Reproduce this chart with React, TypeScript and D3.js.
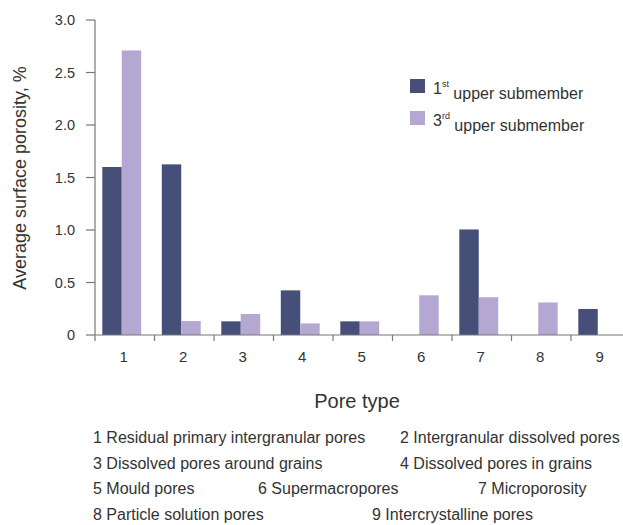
import React from "react";
import * as d3 from "d3";

// Pore type categories on the x axis
const poreTypes = ["1", "2", "3", "4", "5", "6", "7", "8", "9"];
// Average surface porosity (%) per pore type, per submember
const firstUpper = [1.6, 1.625, 0.13, 0.425, 0.13, 0, 1.005, 0, 0.248];
const thirdUpper = [2.71, 0.133, 0.2, 0.11, 0.13, 0.378, 0.36, 0.31, 0];
const seriesNames = ["1st upper submember", "3rd upper submember"];
const yTicks = [0, 0.5, 1.0, 1.5, 2.0, 2.5, 3.0];
const yTickLabels = ["0", "0.5", "1.0", "1.5", "2.0", "2.5", "3.0"];

// Pore type key lines: [text, x]
const keyRows: [string, number][][] = [
  [["1 Residual primary intergranular pores", 93], ["2 Intergranular dissolved pores", 400]],
  [["3 Dissolved pores around grains", 93], ["4 Dissolved pores in grains", 400]],
  [["5 Mould pores", 93], ["6 Supermacropores", 258], ["7 Microporosity", 478]],
  [["8 Particle solution pores", 93], ["9 Intercrystalline pores", 372]],
];

const W = 623;
const H = 525;
const FONT = "'Liberation Sans', Arial, sans-serif";
const DARK = "#454f78";
const LIGHT = "#b4a8d3";
const AXIS = "#777";
const TEXT = "#333";

export default function App() {
  const x0 = 95;
  const y0 = 335;
  const band = 59.5;
  const x = d3.scaleBand<string>().domain(poreTypes).range([x0, x0 + band * poreTypes.length]).padding(0);
  const inner = d3.scaleBand<string>().domain(["a", "b"]).range([0, x.bandwidth()]).paddingInner(0).paddingOuter(0.53);
  const y = d3.scaleLinear().domain([0, 3]).range([y0, 20]);

  const boundaries = poreTypes.map((p) => x(p)!);

  return (
    <svg width={W} height={H} style={{ position: "absolute", left: 0, top: 0, background: "#fff" }} fontFamily={FONT}>
      {/* bars */}
      {poreTypes.map((p, i) => {
        const bx = x(p)! - 3;
        return (
          <g key={p}>
            {firstUpper[i] > 0 && (
              <rect x={bx + inner("a")!} y={y(firstUpper[i])} width={inner.bandwidth()} height={y0 - y(firstUpper[i])} fill={DARK} />
            )}
            {thirdUpper[i] > 0 && (
              <rect x={bx + inner("b")!} y={y(thirdUpper[i])} width={inner.bandwidth()} height={y0 - y(thirdUpper[i])} fill={LIGHT} />
            )}
          </g>
        );
      })}

      {/* y axis */}
      <line x1={x0} x2={x0} y1={y(3)} y2={y0} stroke={AXIS} strokeWidth={1.2} />
      {yTicks.map((t, i) => (
        <g key={t}>
          <line x1={x0 - 9} x2={x0} y1={y(t)} y2={y(t)} stroke={AXIS} strokeWidth={1.2} />
          <text x={x0 - 20} y={y(t)} dy="0.36em" textAnchor="end" fontSize={14.5} fill={TEXT}>
            {yTickLabels[i]}
          </text>
        </g>
      ))}

      {/* x axis */}
      <line x1={x0} x2={W} y1={y0} y2={y0} stroke={AXIS} strokeWidth={1.2} />
      {boundaries.map((b, i) => (
        <line key={i} x1={b} x2={b} y1={y0} y2={y0 + 6} stroke={AXIS} strokeWidth={1.2} />
      ))}
      {poreTypes.map((p) => (
        <text key={p} x={x(p)! + x.bandwidth() / 2 - 1} y={362} textAnchor="middle" fontSize={15} fill={TEXT}>
          {p}
        </text>
      ))}

      {/* axis titles */}
      <text transform={`translate(20, ${178}) rotate(-90)`} textAnchor="middle" dy="0.35em" fontSize={18} fill={TEXT}>
        Average surface porosity, %
      </text>
      <text x={357} y={408} textAnchor="middle" fontSize={20} fill={TEXT}>
        Pore type
      </text>

      {/* legend */}
      {seriesNames.map((s, i) => {
        const ly = 79 + i * 32;
        const [num, rest] = i === 0 ? ["1", "st"] : ["3", "rd"];
        return (
          <g key={s}>
            <rect x={410} y={ly} width={15} height={14} fill={i === 0 ? DARK : LIGHT} />
            <text x={433} y={ly + 14.5} fontSize={16} fill={TEXT}>
              {num}
              <tspan fontSize={9} dy="-0.75em">{rest}</tspan>
              <tspan dy="0.75em"> upper submember</tspan>
            </text>
          </g>
        );
      })}

      {/* pore type key */}
      {keyRows.map((row, r) =>
        row.map(([t, tx]) => (
          <text key={t} x={tx} y={443 + r * 25.5} fontSize={16} fill={TEXT}>
            {t}
          </text>
        ))
      )}
    </svg>
  );
}
